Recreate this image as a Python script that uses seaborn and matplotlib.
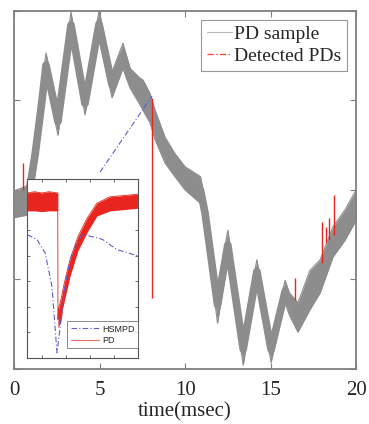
import numpy as np
import pandas as pd
import matplotlib
matplotlib.use("Agg")
import matplotlib.pyplot as plt
from matplotlib.lines import Line2D
import seaborn as sns

# ---------------- data ----------------
# PD sample band (time in msec, upper / lower edge of the dense trace)
band_t = [0.0, 0.8, 1.23, 1.64, 1.87, 2.57, 3.33, 4.15, 4.97, 5.73, 6.37, 6.78,
          7.37, 7.54, 7.95, 8.25, 8.83, 9.4, 10.0, 10.9, 11.17, 11.9, 12.5,
          13.4, 14.2, 15.03, 15.85, 16.1, 16.6, 17.3, 17.9, 18.65, 19.36, 20.0]
band_hi = [1.99, 2.05, 2.61, 3.23, 3.53, 2.92, 3.99, 3.09, 4.01, 3.32, 3.64, 3.36,
           3.25, 3.23, 3.08, 2.89, 2.59, 2.41, 2.26, 2.15, 1.89, 0.92, 1.55,
           0.40, 1.22, 0.36, 0.99, 0.85, 0.74, 1.10, 1.22, 1.59, 1.78, 2.00]
band_lo = [1.69, 1.72, 2.17, 2.78, 3.26, 2.61, 3.70, 2.84, 3.70, 3.03, 3.36, 3.14,
           2.95, 2.89, 2.75, 2.56, 2.30, 2.15, 2.00, 1.85, 1.59, 0.51, 1.22,
           0.04, 0.96, 0.07, 0.74, 0.60, 0.41, 0.66, 0.85, 1.25, 1.44, 1.66]

# detected PD spikes (time, low end, high end)
spike_t = [0.51, 8.05, 16.4, 18.03, 18.25, 18.42, 18.73]
spike_lo = [2.0, 0.79, 0.77, 1.18, 1.41, 1.44, 1.50]
spike_hi = [2.3, 3.03, 1.02, 1.64, 1.59, 1.69, 1.94]

# dash-dot pointer from the inset to the zoomed PD
pointer_t = [5.03, 8.07]
pointer_y = [2.20, 3.05]

# inset: PD trace band
inset_pd_x = [-0.6, -0.3, 0.0, 0.3, 0.66, 0.67, 0.69, 0.8, 0.88, 1.0, 1.17,
              1.5, 1.87, 2.28, 2.82, 3.4, 3.94, 4.0]
inset_pd_hi = [6.45, 6.5, 6.45, 6.5, 6.45, 1.5, 1.9, 2.3, 2.7, 3.2, 3.85,
               4.75, 5.45, 6.05, 6.3, 6.35, 6.4, 6.4]
inset_pd_lo = [5.75, 5.75, 5.72, 5.75, 5.75, 1.2, 1.2, 1.5, 2.0, 2.5, 3.2,
               4.2, 4.9, 5.55, 5.75, 5.8, 5.85, 5.85]

# inset: HSMPD curve
hsmpd_x = [-0.6, -0.2, 0.14, 0.42, 0.63, 0.76, 0.96, 1.17, 1.45, 1.7, 2.28,
           2.52, 3.1, 3.94, 4.0]
hsmpd_y = [4.82, 4.63, 4.1, 2.8, 0.2, 1.2, 2.8, 3.84, 4.55, 4.82, 4.7,
           4.63, 4.24, 4.0, 4.0]

x_ticks = [0, 5, 10, 15, 20]

# ---------------- styling ----------------
sns.set_theme(style="white")
plt.rcParams['font.family'] = ['Liberation Serif', 'DejaVu Serif']

GRAY = '#8d8d8d'
RED = '#e8261f'
BLUE = '#5f5fd0'
SPINE = '#7f7f7f'
DASHDOT = (0, (5, 2, 1, 2))

fig = plt.figure(figsize=(3.69, 4.24), dpi=100)
ax = fig.add_axes([0.038, 0.130, 0.927, 0.844])

df_band = pd.DataFrame({'t': band_t, 'hi': band_hi, 'lo': band_lo})
df_band['mid'] = (df_band['hi'] + df_band['lo']) / 2
ax.fill_between(df_band['t'], df_band['lo'], df_band['hi'], color=GRAY, lw=0, zorder=2)
# thick stroke along the middle so the steep flanks keep their width
sns.lineplot(data=df_band, x='t', y='mid', ax=ax, color=GRAY, lw=5.5,
             solid_joinstyle='round', solid_capstyle='butt', zorder=2)
sns.lineplot(data=df_band, x='t', y='hi', ax=ax, color=GRAY, lw=0.8, zorder=2)
sns.lineplot(data=df_band, x='t', y='lo', ax=ax, color=GRAY, lw=0.8, zorder=2)

ax.vlines(spike_t, spike_lo, spike_hi, color=RED, lw=1.0, zorder=3)

sns.lineplot(x=pointer_t, y=pointer_y, ax=ax, color=BLUE, lw=0.8,
             linestyle=DASHDOT, zorder=3)

ax.set_xlim(0, 20)
ax.set_ylim(0, 4)
ax.set_xticks(x_ticks)
ax.set_xticklabels([str(v) for v in x_ticks], fontsize=15)
ax.set_yticks([0, 1, 2, 3, 4])
ax.set_yticklabels([])
ax.set_xlabel('time(msec)', fontsize=15, labelpad=1)
ax.set_ylabel('')
ax.tick_params(direction='in', top=True, right=True, left=True, bottom=True,
               length=4, width=0.8, color=SPINE, pad=9)
for s in ax.spines.values():
    s.set_color(SPINE)
    s.set_linewidth(1.3)

handles = [Line2D([], [], color='#b8b8b8', lw=0.8),
           Line2D([], [], color='#ff3b2f', lw=0.9, linestyle=DASHDOT)]
leg = ax.legend(handles, ['PD sample', 'Detected PDs'], loc='upper right',
                fontsize=14, frameon=True, fancybox=False, handlelength=1.3,
                handletextpad=0.1, borderpad=0.3, labelspacing=0.2,
                borderaxespad=0.45)
leg.get_frame().set_edgecolor(SPINE)
leg.get_frame().set_linewidth(0.8)

# ---------------- inset ----------------
axin = fig.add_axes([0.074, 0.156, 0.301, 0.422])
axin.set_facecolor('white')
df_pd = pd.DataFrame({'x': inset_pd_x, 'hi': inset_pd_hi, 'lo': inset_pd_lo})
axin.fill_between(df_pd['x'], df_pd['lo'], df_pd['hi'], color=RED, lw=0, zorder=2)
sns.lineplot(data=df_pd, x='x', y='hi', ax=axin, color=RED, lw=0.6, zorder=2)
sns.lineplot(x=hsmpd_x, y=hsmpd_y, ax=axin, color=BLUE, lw=0.8,
             linestyle=DASHDOT, zorder=3)
axin.set_xlim(-0.6, 4.0)
axin.set_ylim(0, 7)
axin.set_xticks([0, 1, 2, 3])
axin.set_yticks([1, 2, 3, 4, 5, 6])
axin.set_xticklabels([])
axin.set_yticklabels([])
axin.set_xlabel('')
axin.set_ylabel('')
axin.tick_params(direction='in', top=True, right=True, left=True, bottom=True,
                 length=2.5, width=0.6, color='#555555')
for s in axin.spines.values():
    s.set_color('#555555')
    s.set_linewidth(0.8)

in_handles = [Line2D([], [], color=BLUE, lw=0.8, linestyle=DASHDOT),
              Line2D([], [], color='#f07060', lw=0.8)]
leg2 = axin.legend(in_handles, ['HSMPD', 'PD'], loc='lower right',
                   bbox_to_anchor=(0.995, 0.055),
                   prop={'family': ['Liberation Sans', 'DejaVu Sans'], 'size': 6.5},
                   frameon=True, fancybox=False, handlelength=3.2,
                   handletextpad=0.3, borderpad=0.35, labelspacing=0.25,
                   borderaxespad=0.0)
leg2.get_frame().set_edgecolor('#555555')
leg2.get_frame().set_linewidth(0.6)

fig.savefig('out.png', dpi=100)
